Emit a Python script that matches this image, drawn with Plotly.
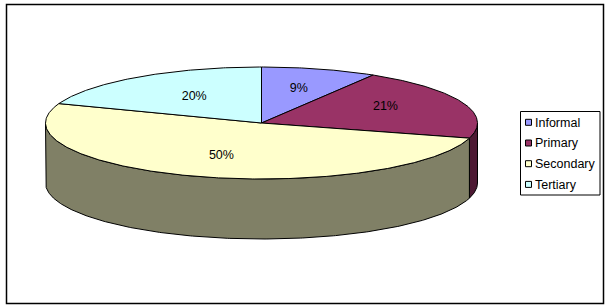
import numpy as np
import plotly.graph_objects as go

# ---- data ----
categories = ["Informal", "Primary", "Secondary", "Tertiary"]
shares = [9, 21, 50, 20]

# ---- styling ----
top_colors = ["#9999FF", "#993366", "#FFFFCC", "#CCFFFF"]
wall_colors = ["#4D4D80", "#4D1933", "#808066", "#668080"]
FONT = "Liberation Sans, Arial, sans-serif"
W, H = 607, 308
CX, CY, RX, RY, DEPTH = 261.5, 123, 216, 56, 60
PERSPECTIVE = 2.4  # degrees of angular skew of the tilted disc
label_radius = [0.62, 0.61, 0.60, 0.53]
label_lift = [1, 5, -1, 2]


def rim(t_deg, dy=0.0):
    t = np.radians(t_deg)
    return CX + RX * np.sin(t), CY - RY * np.cos(t) + dy


def arc(a, b):
    return np.linspace(a, b, max(int(abs(b - a) * 2), 2))


raw_edges = np.concatenate([[0], np.cumsum(shares)]) / np.sum(shares) * 360
edges = raw_edges - PERSPECTIVE * np.sin(np.radians(raw_edges))

fig = go.Figure()


def poly(xs, ys, color, name):
    fig.add_trace(go.Scatter(
        x=xs, y=ys, mode="lines", fill="toself", fillcolor=color, name=name,
        line=dict(color="#000000", width=1), showlegend=False, hoverinfo="name"))


# side walls: only the front half (90 to 270 degrees) is visible
for i in range(len(shares)):
    a, b = max(edges[i], 90), min(edges[i + 1], 270)
    if a >= b:
        continue
    ts = arc(a, b)
    x1, y1 = rim(ts)
    x2, y2 = rim(ts[::-1], DEPTH)
    poly(np.r_[x1, x2, x1[0]], np.r_[y1, y2, y1[0]], wall_colors[i], categories[i])

# top faces
for i in range(len(shares)):
    ts = arc(edges[i], edges[i + 1])
    x1, y1 = rim(ts)
    poly(np.r_[CX, x1, CX], np.r_[CY, y1, CY], top_colors[i], categories[i])

# percent labels
mids = (raw_edges[:-1] + raw_edges[1:]) / 2
lx = CX + RX * np.sin(np.radians(mids)) * np.array(label_radius)
ly = CY - RY * np.cos(np.radians(mids)) * np.array(label_radius) - np.array(label_lift)
fig.add_trace(go.Scatter(
    x=lx, y=ly, mode="text", text=[f"{v}%" for v in shares],
    textposition="middle center", showlegend=False, hoverinfo="skip",
    textfont=dict(family=FONT, size=12.5, color="#000000")))

# legend keys and names
legend_y = 122.3 + np.arange(len(categories)) * 20.7
fig.add_trace(go.Scatter(
    x=[528.5] * len(categories), y=legend_y, mode="markers",
    marker=dict(symbol="square", size=6, color=top_colors, line=dict(color="#000000", width=1)),
    showlegend=False, hoverinfo="skip"))
fig.add_trace(go.Scatter(
    x=[535] * len(categories), y=legend_y + 1.2, mode="text",
    text=categories, textposition="middle right",
    textfont=dict(family=FONT, size=12.5, color="#000000"),
    showlegend=False, hoverinfo="text"))

fig.update_layout(
    width=W, height=H, margin=dict(l=0, r=0, t=0, b=0),
    paper_bgcolor="#FFFFFF", plot_bgcolor="#FFFFFF", showlegend=False,
    xaxis=dict(range=[0, W], visible=False, fixedrange=True),
    yaxis=dict(range=[H, 0], visible=False, fixedrange=True),
    shapes=[
        dict(type="rect", x0=6.5, y0=4.5, x1=603.5, y1=303.5, line=dict(color="#000000", width=1.5), layer="below"),
        dict(type="rect", x0=520.5, y0=111.5, x1=600, y1=195, line=dict(color="#000000", width=1), layer="below"),
    ],
)

fig.write_html("out.html", config=dict(displayModeBar=False),
               post_script="document.body.style.margin='0';document.body.style.overflow='hidden';")
